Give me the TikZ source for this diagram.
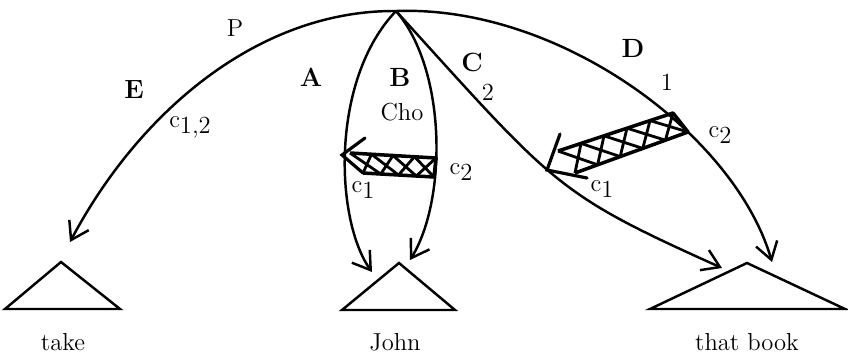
\documentclass[tikz,border=0pt]{standalone}
\usetikzlibrary{arrows.meta, calc}

\newcommand{\cidx}[1]{c\raisebox{-0.55ex}{#1}}

\begin{document}
\begin{tikzpicture}[
  x=0.02cm, y=-0.02cm,
  link/.style={line width=1.4pt, -{Straight Barb[length=3.4mm, width=4.4mm]}},
  leafshape/.style={line width=1.4pt, line join=miter},
  band/.style={line width=2pt, line join=round},
  hatch/.style={line width=1.6pt},
  barb/.style={line width=1.8pt, line cap=round, line join=miter},
  leaf/.style={font=\fontsize{14}{17}\selectfont, inner sep=1pt},
  arclabel/.style={font=\fontsize{15}{18}\selectfont\bfseries, inner sep=1pt},
  tag/.style={font=\fontsize{14}{17}\selectfont, inner sep=1pt}
]

\useasboundingbox (0,0) rectangle (848,356);

% --- root and the ends of the five arcs ---
\coordinate (root) at (396,11);
\coordinate (tipE) at (70,242);
\coordinate (tipA) at (372,272);
\coordinate (tipB) at (410,260);
\coordinate (tipC) at (722,268);
\coordinate (tipD) at (772,262);

% --- the three trees ---
\coordinate (take) at (61,262);
\coordinate (john) at (399,263);
\coordinate (book) at (747,263);
\draw[leafshape] (take) -- ++(-56,47) -- ++(115,0) -- cycle;
\draw[leafshape] (john) -- ++(-57,47) -- ++(113,0) -- cycle;
\draw[leafshape] (book) -- ++(-97,46) -- ++(195,0) -- cycle;

\node[leaf] (takelbl) at (63,342) {take};
\node[leaf] (johnlbl) at (395,342) {John};
\node[leaf] (booklbl) at (747,342) {that book};

% --- arcs from the root ---
\draw[link] (root) .. controls (260,10) and (140,110) .. (tipE);
\draw[link] (root) .. controls (330,80) and (335,220) .. (tipA);
\draw[link] (root) .. controls (447,70) and (447,200) .. (tipB);
\draw[link] (root) .. controls (555,186) and (555,193) .. (tipC);
\draw[link] (root) .. controls (560,5) and (735,135) .. (tipD);

% --- hatched arrow from B to A ---
\coordinate (ab-tl) at (350,153);
\coordinate (ab-tr) at (436,158);
\coordinate (ab-br) at (434,177);
\coordinate (ab-bl) at (363,173);
\coordinate (ab-tip) at (342,155);
\coordinate (ab-up) at (365,138);
\draw[band] (ab-tl) -- (ab-tr) -- (ab-br) -- (ab-bl);
\foreach \i [evaluate=\i as \a using \i/4, evaluate=\i as \b using (\i+1)/4] in {0,...,3}
  \draw[hatch] ($(ab-tl)!\a!(ab-tr)$) -- ($(ab-bl)!\b!(ab-br)$)
               ($(ab-bl)!\a!(ab-br)$) -- ($(ab-tl)!\b!(ab-tr)$);
\draw[barb] (ab-up) -- (ab-tip) -- (ab-bl);

% --- hatched arrow from D to C ---
\coordinate (dc-tl) at (558,151);
\coordinate (dc-tr) at (673,113);
\coordinate (dc-br) at (688,132);
\coordinate (dc-bl) at (575,173);
\coordinate (dc-tip) at (547,170);
\coordinate (dc-up) at (560,134);
\coordinate (dc-lo) at (587,178);
\draw[band] (dc-tl) -- (dc-tr) -- (dc-br) -- (dc-bl);
\foreach \i [evaluate=\i as \a using \i/5, evaluate=\i as \b using (\i+1)/5] in {0,...,4}
  \draw[hatch] ($(dc-tl)!\a!(dc-tr)$) -- ($(dc-bl)!\b!(dc-br)$)
               ($(dc-bl)!\a!(dc-br)$) -- ($(dc-tl)!\b!(dc-tr)$);
\draw[barb] (dc-up) -- (dc-tip) -- (dc-lo);

% --- labels ---
\node[arclabel] (lblE) at (134,90) {E};
\node[arclabel] (lblA) at (311,77) {A};
\node[arclabel] (lblB) at (400,77) {B};
\node[arclabel] (lblC) at (472,62) {C};
\node[arclabel] (lblD) at (633,48) {D};
\node[tag] (lblP) at (235,28) {P};
\node[tag] (lblCho) at (402,112) {Cho};
\node[tag] (lblC2) at (488,92) {2};
\node[tag] (lblD1) at (667,82) {1};
\node[tag] (cE) at (190,127) {\cidx{1,2}};
\node[tag] (cA) at (363,190) {\cidx{1}};
\node[tag] (cB) at (461,172) {\cidx{2}};
\node[tag] (cC) at (602,189) {\cidx{1}};
\node[tag] (cD) at (720,135) {\cidx{2}};

\end{tikzpicture}
\end{document}
